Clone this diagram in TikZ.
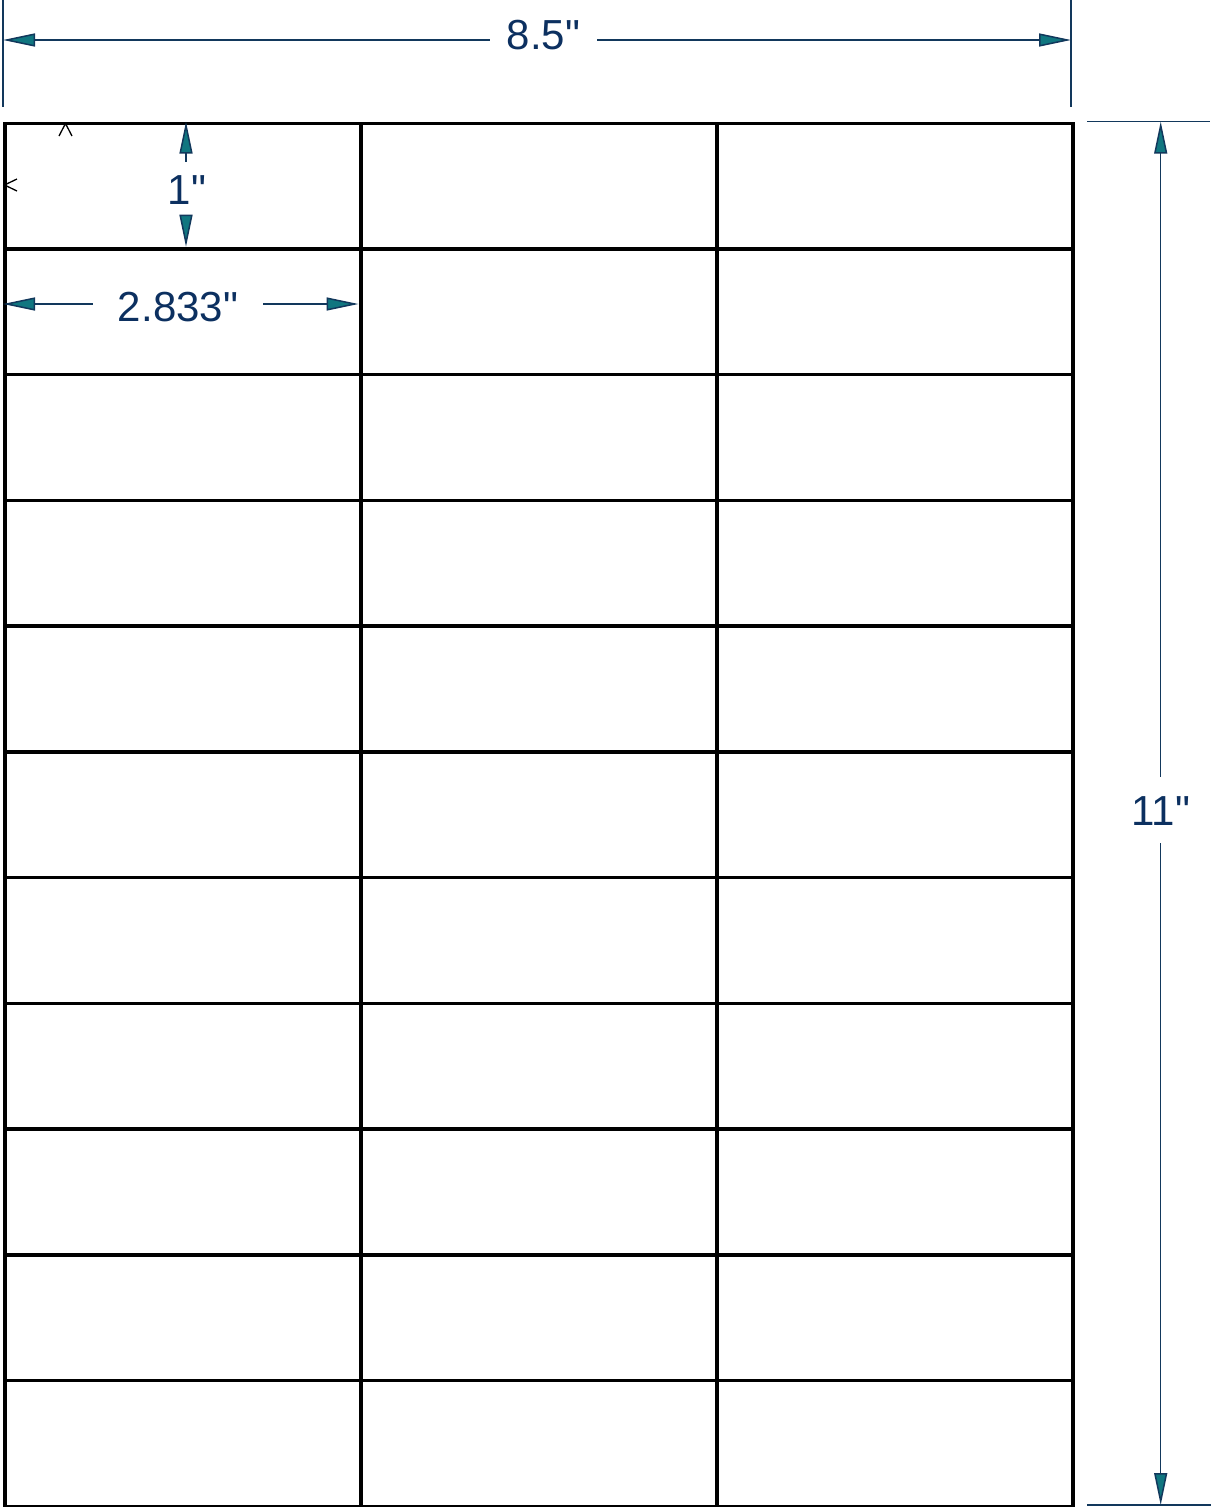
\documentclass[tikz,border=0pt]{standalone}
\usepackage{fontspec}
\setmainfont{Liberation Sans}
\newfontfamily\dimfont{Liberation Sans}
\usetikzlibrary{arrows.meta,calc}
\definecolor{dimline}{RGB}{18,56,92}
\definecolor{dimtext}{RGB}{12,48,96}
\definecolor{tipfill}{RGB}{16,118,128}
\tikzset{
  cell/.style={draw=black,line width=3.5pt,minimum width=356pt,minimum height=125.727pt,inner sep=0pt,anchor=north west},
  dimln/.style={draw=dimline,line width=1.5pt},
  dimarr/.style={dimln,-{Triangle[length=32pt,width=13pt,fill=tipfill]}},
  dimlabel/.style={text=dimtext,font=\dimfont\fontsize{42}{42}\selectfont,text height=30pt,text depth=0pt,inner sep=0pt},
  tickmark/.style={draw=black,line width=1.3pt}
}
\begin{document}
\begin{tikzpicture}[x=1pt,y=-1pt]
\fill[white] (0,0) rectangle (1211,1507);
\useasboundingbox (0,0) rectangle (1211,1507);
% label grid
\foreach \r in {0,...,10}{
  \foreach \c in {0,1,2}{
    \node[cell] (c-\r-\c) at ({3+356*\c},{121.5+125.727*\r}) {};
  }
}
% extension lines
\coordinate (e1a) at (3,0);    \coordinate (e1b) at (3,107);
\coordinate (e2a) at (1071,0); \coordinate (e2b) at (1071,107);
\coordinate (e3a) at (1087,121.7); \coordinate (e3b) at (1210,121.7);
\coordinate (e4a) at (1087,1505);  \coordinate (e4b) at (1211,1505);
\draw[dimln] (e1a) -- (e1b);
\draw[dimln] (e2a) -- (e2b);
\draw[dimln] (e3a) -- (e3b);
\draw[dimln] (e4a) -- (e4b);
% 8.5" width
\coordinate (wl) at (3,40); \coordinate (wr) at (1071,40);
\node[dimlabel,inner xsep=17pt] (w) at (543.5,34.5) {8.5"};
\draw[dimarr] (w.west |- wl) -- (wl);
\draw[dimarr] (w.east |- wr) -- (wr);
% 11" height
\coordinate (ht) at (1160.7,121.7); \coordinate (hb) at (1160.7,1505);
\node[dimlabel,inner ysep=18pt] (h) at (1160.7,810) {11"};
\draw[dimarr] (h.north) -- (ht);
\draw[dimarr] (h.south) -- (hb);
% 1" label height
\coordinate (oht) at (186,121.7); \coordinate (ohb) at (186,246.7);
\node[dimlabel,inner ysep=12pt] (oh) at (187,189) {1"};
\draw[dimarr] (oh.north -| oht) -- (oht);
\draw[dimarr] (oh.south -| ohb) -- (ohb);
% 2.833" label width
\coordinate (owl) at (3,304); \coordinate (owr) at (358.5,304);
\node[dimlabel,inner xsep=25pt] (ow) at (178,306) {2.833"};
\draw[dimarr] (ow.west |- owl) -- (owl);
\draw[dimarr] (ow.east |- owr) -- (owr);
% small marks
\draw[tickmark] (59,136) -- (65.5,123.5) -- (72,136);
\draw[tickmark] (17,179) -- (4.5,185) -- (17,191);
\end{tikzpicture}
\end{document}
